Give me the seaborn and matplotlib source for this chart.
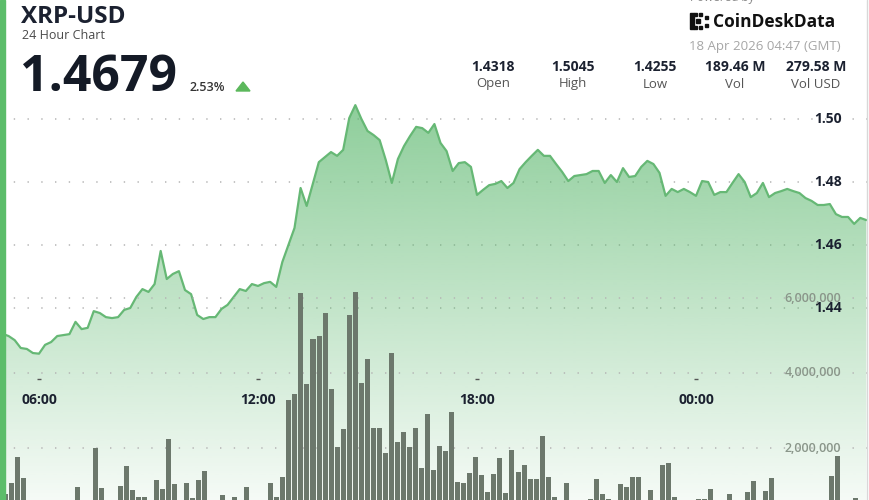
import numpy as np
import pandas as pd
import matplotlib
matplotlib.use("Agg")
import matplotlib.pyplot as plt
import matplotlib.transforms as mtransforms
from matplotlib.patches import Rectangle, PathPatch, Polygon
from matplotlib.lines import Line2D
import seaborn as sns

# XRP-USD, 10 minute samples starting 17 Apr 2026 05:00 GMT
start_time = "2026-04-17 05:00"

price = [
    1.4318, 1.4311, 1.4298, 1.4273, 1.4270, 1.4257, 1.4255, 1.4283, 1.4292, 1.4311,
    1.4314, 1.4317, 1.4356, 1.4333, 1.4337, 1.4390, 1.4384, 1.4371, 1.4368, 1.4371,
    1.4394, 1.4400, 1.4435, 1.4460, 1.4451, 1.4476, 1.4581, 1.4492, 1.4508, 1.4517,
    1.4457, 1.4444, 1.4378, 1.4365, 1.4371, 1.4371, 1.4397, 1.4410, 1.4435, 1.4460,
    1.4454, 1.4476, 1.4470, 1.4479, 1.4483, 1.4467, 1.4546, 1.4600, 1.4654, 1.4781,
    1.4724, 1.4794, 1.4863, 1.4879, 1.4895, 1.4883, 1.4902, 1.5003, 1.5044, 1.5000,
    1.4962, 1.4949, 1.4933, 1.4870, 1.4797, 1.4873, 1.4914, 1.4946, 1.4975, 1.4971,
    1.4956, 1.4984, 1.4924, 1.4898, 1.4835, 1.4860, 1.4863, 1.4848, 1.4759, 1.4775,
    1.4790, 1.4794, 1.4803, 1.4781, 1.4797, 1.4841, 1.4863, 1.4883, 1.4902, 1.4883,
    1.4883, 1.4857, 1.4832, 1.4803, 1.4819, 1.4822, 1.4825, 1.4835, 1.4835, 1.4797,
    1.4822, 1.4800, 1.4844, 1.4816, 1.4819, 1.4848, 1.4867, 1.4857, 1.4829, 1.4756,
    1.4778, 1.4768, 1.4778, 1.4768, 1.4756, 1.4803, 1.4800, 1.4759, 1.4768, 1.4768,
    1.4797, 1.4825, 1.4800, 1.4752, 1.4765, 1.4797, 1.4752, 1.4765, 1.4771, 1.4778,
    1.4771, 1.4765, 1.4749, 1.4740, 1.4727, 1.4727, 1.4730, 1.4698, 1.4689, 1.4689,
    1.4667, 1.4686, 1.4679,
]

# volume per bar, millions
volume_m = [
    0.77, 1.07, 1.77, 1.21, 0.45, 0.40, 0.35, 0.42, 0.38, 0.45,
    0.50, 0.40, 0.97, 0.50, 0.45, 2.01, 0.93, 0.48, 0.52, 0.99,
    1.52, 0.88, 0.69, 0.70, 0.55, 1.15, 0.91, 2.24, 1.03, 0.50,
    1.07, 0.66, 1.15, 1.39, 0.52, 0.45, 0.75, 0.55, 0.69, 0.50,
    0.97, 0.48, 0.52, 0.58, 1.06, 0.70, 1.22, 3.28, 3.44, 6.14,
    3.70, 4.90, 4.99, 5.59, 3.58, 2.02, 2.52, 5.54, 6.16, 3.73,
    4.38, 2.54, 2.54, 1.88, 4.54, 2.17, 2.42, 2.04, 2.54, 1.47,
    2.91, 1.41, 2.06, 1.92, 2.96, 1.10, 1.06, 1.33, 1.77, 1.28,
    0.82, 1.30, 1.74, 0.79, 1.95, 1.37, 1.56, 1.18, 1.18, 2.33,
    1.24, 0.70, 0.55, 1.06, 0.50, 0.45, 0.55, 0.64, 1.17, 0.77,
    0.64, 0.50, 1.03, 0.96, 1.24, 1.24, 0.55, 0.88, 0.50, 1.56,
    1.59, 0.70, 0.45, 0.40, 0.50, 0.63, 0.64, 0.90, 0.50, 0.55,
    0.77, 0.45, 0.50, 0.82, 1.12, 0.55, 0.86, 1.21, 0.45, 0.40,
    0.50, 0.45, 0.40, 0.50, 0.45, 0.55, 0.50, 1.25, 1.79, 0.45,
    0.40, 0.66, 0.35,
]

price_ticks = [1.44, 1.46, 1.48, 1.50]
volume_ticks = [2000000, 4000000, 6000000]
time_labels = ["06:00", "12:00", "18:00", "00:00"]
time_label_hours = [6, 12, 18, 24]

stat_values = ["1.4318", "1.5045", "1.4255", "189.46 M", "279.58 M"]
stat_names = ["Open", "High", "Low", "Vol", "Vol USD"]

sns.set_theme(style="white")
plt.rcParams["font.family"] = ["Open Sans", "DejaVu Sans"]

W, H = 870, 500


def fx(px):
    return px / W


def fy(py):
    return 1 - py / H


times = pd.date_range(start_time, periods=len(price), freq="10min")
hours = np.asarray((times - times[0].normalize()) / pd.Timedelta(hours=1))

fig = plt.figure(figsize=(W / 100, H / 100), dpi=100)
fig.patch.set_facecolor("white")

# price panel
ax = fig.add_axes([0, 0, 1, 1])
ax.set_axis_off()
y_lo = 1.50 - 381 / 3150
y_hi = 1.50 + 119 / 3150
x_lo = 6 - 39 / 36.5
x_hi = 6 + 831 / 36.5

for v in price_ticks:
    ax.axhline(v, color="#b4b4b4", lw=1.1, dashes=(0.9, 8.1), zorder=0)

area = ax.fill_between(hours, price, y_lo, facecolor="none", edgecolor="none")
clip = PathPatch(area.get_paths()[0], transform=ax.transData,
                 facecolor="none", edgecolor="none")
ax.add_patch(clip)
ypx = np.linspace(0, H, 300)
alpha = np.clip(0.70 - (ypx - 100) / 400 * 0.64, 0.05, 0.72)
grad = np.zeros((300, 1, 4))
grad[..., 0] = 92 / 255
grad[..., 1] = 184 / 255
grad[..., 2] = 110 / 255
grad[:, 0, 3] = alpha
img = ax.imshow(grad, extent=[hours[0], hours[-1], y_lo, y_hi],
                aspect="auto", origin="upper", interpolation="bilinear",
                zorder=1)
img.set_clip_path(clip)

sns.lineplot(x=hours, y=price, ax=ax, color="#66b875", linewidth=1.6,
             zorder=3)
ax.set_xlim(x_lo, x_hi)
ax.set_ylim(y_lo, y_hi)

trans_py = mtransforms.blended_transform_factory(ax.transAxes, ax.transData)
for v in price_ticks:
    ax.text(fx(842), v, f"{v:.2f}", transform=trans_py, ha="right",
            va="center", fontsize=10, fontweight="bold", color="#1b2130",
            zorder=6)

trans_tx = mtransforms.blended_transform_factory(ax.transData, ax.transAxes)
for h, lab in zip(time_label_hours, time_labels):
    ax.text(h, fy(400), lab, transform=trans_tx, ha="center", va="center",
            fontsize=10, fontweight="bold", color="#1b2130", zorder=6)
ax.plot(time_label_hours, [fy(379)] * len(time_label_hours),
        transform=trans_tx, ls="none", marker="_", ms=3, mew=1,
        color="#555555", zorder=6)

# volume panel
axv = fig.add_axes([0, 0, 1, 1])
axv.set_axis_off()
for v in volume_ticks:
    axv.axhline(v, color="#b4b4b4", lw=1.1, dashes=(0.9, 8.1), zorder=0)
sns.barplot(x=np.arange(len(volume_m)), y=np.array(volume_m) * 1e6, ax=axv,
            color="#6c786c", width=0.83, saturation=1, linewidth=0,
            errorbar=None, zorder=2)
axv.set_xlim(-5.47 / 6.03, (W - 5.47) / 6.03)
axv.set_ylim(23 / 37.5 * 1e6, 523 / 37.5 * 1e6)
axv.set_axis_off()
trans_vy = mtransforms.blended_transform_factory(axv.transAxes, axv.transData)
for v in volume_ticks:
    axv.text(fx(841), v, f"{v:,.0f}", transform=trans_vy, ha="right",
             va="center", fontsize=9, fontweight="semibold",
             color="#8a968a", zorder=5)

# frame pieces
fig.add_artist(Rectangle((0, 0), fx(5), 1, transform=fig.transFigure,
                         color="#5cbd6a", zorder=10))
fig.add_artist(Line2D([fx(867), fx(867)], [0, 1], transform=fig.transFigure,
                      color="#d8d8d8", lw=1, zorder=10))

# header
fig.text(fx(21), fy(23), "XRP-USD", fontsize=17.5, fontweight="bold",
         color="#1b2130", va="baseline")
fig.text(fx(22), fy(39), "24 Hour Chart", fontsize=9, color="#4a4a4a",
         va="baseline")
fig.text(fx(20), fy(91), "1.4679", fontsize=36, fontweight="bold",
         color="#141a26", va="baseline")
fig.text(fx(190), fy(91), "2.53%", fontsize=9, fontweight="semibold",
         color="#333333", va="baseline")
fig.add_artist(Polygon([[fx(236), fy(91)], [fx(250), fy(91)],
                        [fx(243), fy(82)]], closed=True,
                       transform=fig.transFigure, color="#5cb85c"))

stat_x = [493, 573, 655, 735, 816]
for x, val, name in zip(stat_x, stat_values, stat_names):
    fig.text(fx(x), fy(71), val, ha="center", va="baseline", fontsize=10,
             fontweight="bold", color="#1b2130")
    fig.text(fx(x), fy(87.5), name, ha="center", va="baseline",
             fontsize=9.5, color="#555555")

fig.text(fx(690), fy(1.5), "Powered by", fontsize=8.5, color="#8a8a8a",
         va="baseline")
fig.text(fx(713), fy(27), "CoinDeskData", fontsize=12.5, fontweight="bold",
         color="#111111", va="baseline")
fig.text(fx(841), fy(50), "18 Apr 2026 04:47 (GMT)", fontsize=9.5,
         color="#a6a6a6", ha="right", va="baseline")

# logo mark
for (lx, ly, lw_, lh) in [(690, 13, 4, 16), (694, 13, 3, 3), (699, 13, 3, 3),
                          (694, 26, 3, 3), (699, 26, 3, 3), (696, 19, 4, 4),
                          (705, 16, 3, 3), (705, 24, 3, 3)]:
    fig.add_artist(Rectangle((fx(lx), fy(ly + lh)), lw_ / W, lh / H,
                             transform=fig.transFigure, color="#111111"))

fig.savefig("out.png", dpi=100)
